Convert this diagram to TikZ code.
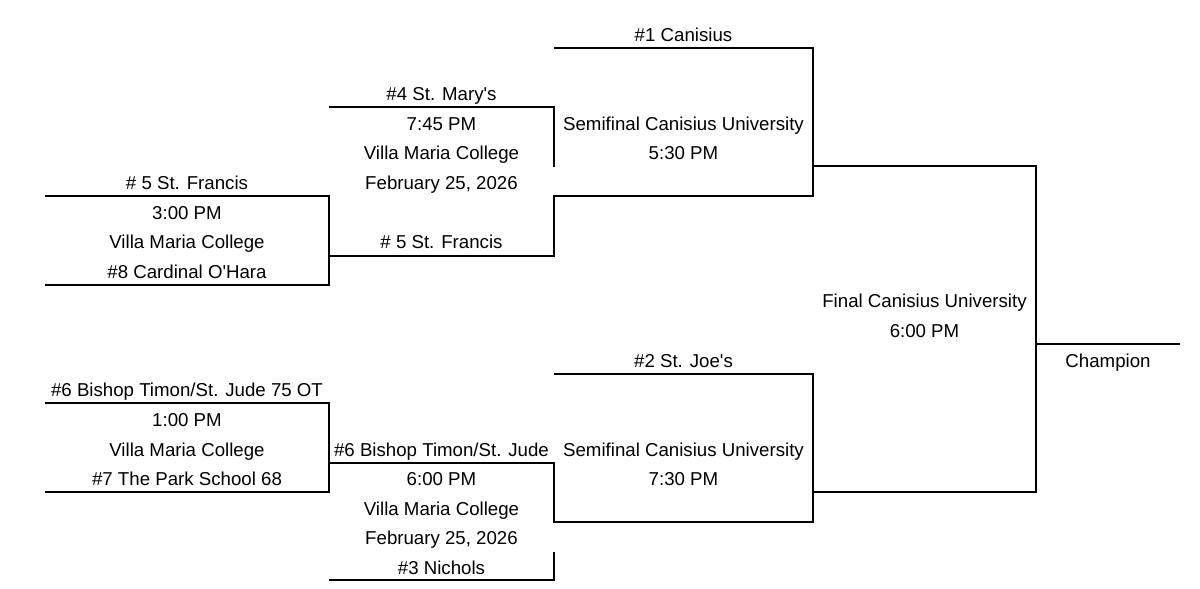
\documentclass[tikz,border=0pt]{standalone}
\usepackage{fontspec}
\setmainfont{Liberation Sans}
\begin{document}
\begin{tikzpicture}[x=0.75pt,y=-0.75pt,
  lbl/.style={anchor=base,inner sep=0pt,font=\fontsize{14}{16}\selectfont},
  brk/.style={line width=1pt,black}]
\useasboundingbox (0,0) rectangle (1200,589);
\def\rowy#1{\fpeval{41.25+29.625*#1}}
% column centres
\def\ca{187}\def\cb{441.5}\def\cc{683.5}\def\cd{924.5}\def\ce{1108}
% bracket lines
\draw[brk] (45,196) -- (329,196) -- (329,285) -- (45,285);
\draw[brk] (329,256) -- (554,256) -- (554,196) -- (813,196) -- (813,48) -- (554,48);
\draw[brk] (329,107) -- (554,107) -- (554,167);
\draw[brk] (813,166) -- (1036,166) -- (1036,492) -- (813,492);
\draw[brk] (1036,344) -- (1180,344);
\draw[brk] (554,374) -- (813,374) -- (813,522) -- (554,522) -- (554,463) -- (329,463);
\draw[brk] (45,403) -- (329,403) -- (329,492) -- (45,492);
\draw[brk] (554,552) -- (554,580) -- (329,580);
% column 1 top
\node[lbl] (a1) at (\ca,{\rowy{5}}) {\# 5 St. Francis};
\node[lbl] (a2) at (\ca,{\rowy{6}}) {3:00 PM};
\node[lbl] (a3) at (\ca,{\rowy{7}}) {Villa Maria College};
\node[lbl] (a4) at (\ca,{\rowy{8}}) {\#8 Cardinal O\textquotesingle Hara};
% column 1 bottom
\node[lbl] (b1) at (\ca,{\rowy{12}}) {\#6 Bishop Timon/St. Jude 75 OT};
\node[lbl] (b2) at (\ca,{\rowy{13}}) {1:00 PM};
\node[lbl] (b3) at (\ca,{\rowy{14}}) {Villa Maria College};
\node[lbl] (b4) at (\ca,{\rowy{15}}) {\#7 The Park School 68};
% column 2 top
\node[lbl] (c1) at (\cb,{\rowy{2}}) {\#4 St. Mary\textquotesingle s};
\node[lbl] (c2) at (\cb,{\rowy{3}}) {7:45 PM};
\node[lbl] (c3) at (\cb,{\rowy{4}}) {Villa Maria College};
\node[lbl] (c4) at (\cb,{\rowy{5}}) {February 25, 2026};
\node[lbl] (c5) at (\cb,{\rowy{7}}) {\# 5 St. Francis};
% column 2 bottom
\node[lbl] (d1) at (\cb,{\rowy{14}}) {\#6 Bishop Timon/St. Jude};
\node[lbl] (d2) at (\cb,{\rowy{15}}) {6:00 PM};
\node[lbl] (d3) at (\cb,{\rowy{16}}) {Villa Maria College};
\node[lbl] (d4) at (\cb,{\rowy{17}}) {February 25, 2026};
\node[lbl] (d5) at (\cb,{\rowy{18}}) {\#3 Nichols};
% column 3
\node[lbl] (e1) at (\cc,{\rowy{0}}) {\#1 Canisius};
\node[lbl] (e2) at (\cc,{\rowy{3}}) {Semifinal Canisius University};
\node[lbl] (e3) at (\cc,{\rowy{4}}) {5:30 PM};
\node[lbl] (f1) at (\cc,{\rowy{11}}) {\#2 St. Joe\textquotesingle s};
\node[lbl] (f2) at (\cc,{\rowy{14}}) {Semifinal Canisius University};
\node[lbl] (f3) at (\cc,{\rowy{15}}) {7:30 PM};
% column 4
\node[lbl] (g1) at (\cd,{\rowy{9}}) {Final Canisius University};
\node[lbl] (g2) at (\cd,{\rowy{10}}) {6:00 PM};
% column 5
\node[lbl] (h1) at (\ce,{\rowy{11}}) {Champion};
\end{tikzpicture}
\end{document}
